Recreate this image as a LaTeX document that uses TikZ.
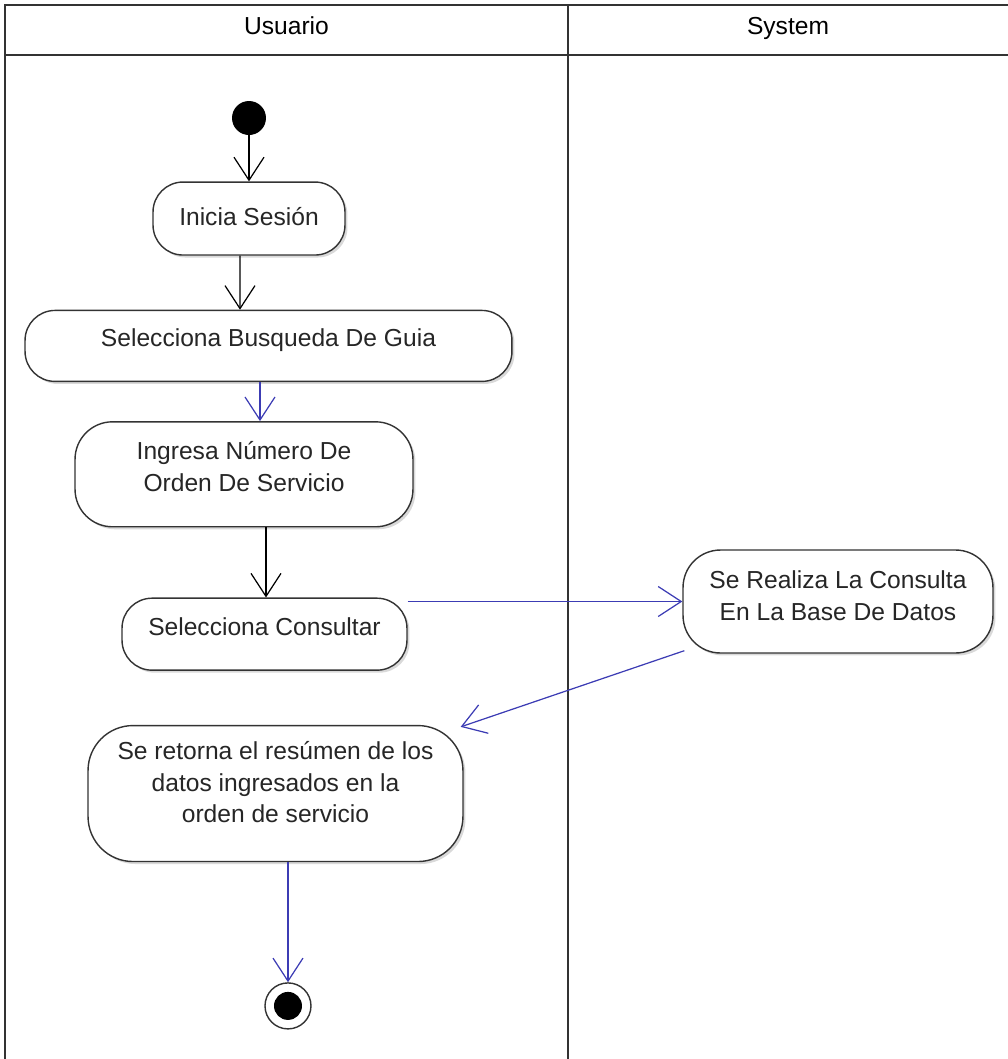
\documentclass[tikz,border=0pt]{standalone}
\usepackage{fontspec}
\setmainfont{Liberation Sans}
\usetikzlibrary{positioning, arrows.meta, shadows}
\definecolor{umlblue}{HTML}{3C3CB4}
\definecolor{umlline}{HTML}{333333}

\begin{document}
\begin{tikzpicture}[x=0.02cm, y=-0.02cm, font=\fontsize{14}{18}\selectfont,
          act/.style={draw=umlline, fill=white, line width=0.8pt, rounded corners=0.6cm, text=black!85, align=center, inner sep=0pt, text depth=9pt, drop shadow={shadow xshift=0.05cm, shadow yshift=-0.05cm, opacity=0.3}},
          arr/.style={-{Straight Barb[length=0.46cm, width=0.6cm]}, line width=0.7pt},
          lane/.style={draw=umlline, line width=1pt}]
  \useasboundingbox (0,0) rectangle (1008,1059);
  % swimlanes
  \draw[lane] (1008,5) -- (5,5) -- (5,1059);
  \draw[lane] (5,55) -- (1008,55);
  \draw[lane] (568,5) -- (568,1059);
  \node[anchor=base] (usr) at (286.5,34) {Usuario};
  \node[anchor=base] (sys) at (788,34) {System};
  % activities
  \node[circle, fill=black, minimum size=0.68cm, inner sep=0pt] (start) at (249,118) {};
  \node[act, below=0.92cm of start, minimum width=3.84cm, minimum height=1.46cm, text depth=2.5pt] (sesion) {Inicia Sesión};
  \node[act, below=1.08cm of sesion, xshift=0.39cm, minimum width=9.74cm, minimum height=1.42cm] (busq) {Selecciona Busqueda De Guia};
  \node[act, below=0.78cm of busq, xshift=-0.49cm, minimum width=6.76cm, minimum height=2.1cm, rounded corners=0.75cm] (orden) {Ingresa Número De\\Orden De Servicio};
  \node[act, below=1.40cm of orden, xshift=0.41cm, minimum width=5.7cm, minimum height=1.44cm] (consul) {Selecciona Consultar};
  \node[act, minimum width=6.2cm, minimum height=2.06cm, rounded corners=0.75cm, text depth=7pt] (realiza) at (838,601.5) {Se Realiza La Consulta\\En La Base De Datos};
  \node[act, below=1.08cm of consul, xshift=0.22cm, minimum width=7.5cm, minimum height=2.72cm, rounded corners=0.9cm, text depth=13pt] (retorna) {Se retorna el resúmen de los\\datos ingresados en la\\orden de servicio};
  \node[circle, draw=umlline, fill=white, line width=0.8pt, minimum size=0.92cm, inner sep=0pt, below=2.4cm of retorna, xshift=0.25cm] (fin) {};
  \fill (fin) circle (0.28cm);
  % flows
  \draw[arr] (start) -- (sesion);
  \draw[arr] ([xshift=-0.18cm]sesion.south) -- ([xshift=-0.57cm]busq.north);
  \draw[arr, umlblue] ([xshift=-0.17cm]busq.south) -- ([xshift=0.32cm]orden.north);
  \draw[arr] ([xshift=0.44cm]orden.south) -- ([xshift=0.03cm]consul.north);
  \draw[arr, umlblue] (realiza.west -| consul.north east) -- (realiza.west);
  \draw[arr, umlblue] ([shift={(2,-3)}]realiza.south west) -- ([shift={(-3,2)}]retorna.north east);
  \draw[arr, umlblue] (fin |- retorna.south) -- (fin);
\end{tikzpicture}
\end{document}
